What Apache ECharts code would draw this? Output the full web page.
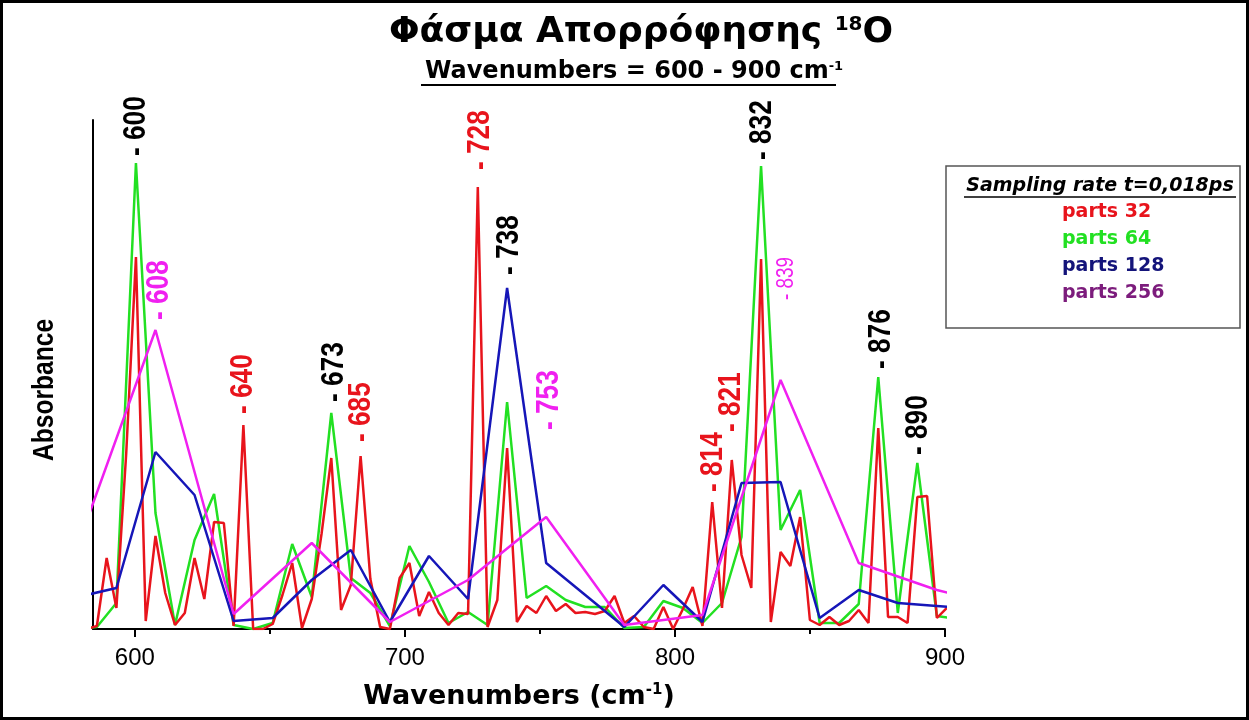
<!DOCTYPE html>
<html>
<head>
<meta charset="utf-8">
<script src="https://cdn.jsdelivr.net/npm/echarts@6/dist/echarts.min.js"></script>
<style>
html,body{margin:0;padding:0;background:#fff;}
#chart{width:1249px;height:720px;}
</style>
</head>
<body>
<div id="chart"></div>
<script>
// ---- Data (absorbance, arbitrary units) ----
// wavenumber grid of each series: x0 + i*step  (cm^-1)
const red32X0 = 582.32, red32Step = 3.6169;
const green64X0 = 578.70, green64Step = 7.2338;
const blue128X0 = 578.70, blue128Step = 14.4676;
const mag256X0 = 578.70, mag256Step = 28.9352;

const red32 = [0,3,71,21,175,372,8,93,36,4,
  16,71,30,107,106,3,204,0,0,5,
  34,66,1,30,95,171,19,44,173,50,
  2,0,51,66,13,37,16,4,16,15,
  442,2,29,181,7,23,16,33,18,25,
  16,17,15,18,33,6,13,2,0,22,
  0,20,42,3,127,21,169,74,41,370,
  7,77,63,112,9,4,12,4,8,19,
  6,201,12,12,6,132,133,11,21];
const green64 = [0,2,26,466,116,4,89,135,4,0,
  6,85,32,216,51,36,3,83,47,6,
  17,4,227,31,43,29,22,22,1,2,
  28,21,6,26,92,463,99,139,6,6,
  25,252,16,166,13,10];
const blue128 = [32,41,177,134,8,11,49,79,7,73,30,341,66,34,2,44,7,146,147,11,39,26,23,20];
const mag256 = [82,299,15,86,7,49,112,4,14,249,66,39,20];

const seriesNames = ['parts 32','parts 64','parts 128','parts 256'];
const lineColors = ['#e8141c','#22e022','#1616b8','#f020f0'];
const legendColors = ['#e8141c','#22e022','#14147a','#7c1c7c'];

const xTicksMajor = [600,700,800,900];
const xTicksMinor = [650,750,850];

// peak annotations
const peakText  = ['600','608','640','673','685','728','738','753','814','821','832','839','876','890'];
const peakWn    = [600.4,609,640.2,673.8,683.8,728,738.5,753.5,814.3,821,832.4,841.5,876.3,890];
const peakH     = [473,309,215,227,187,459,354,199,137,197,469,329,260,174];
const peakColor = ['#000','#f020f0','#e8141c','#000','#e8141c','#e8141c','#000','#f020f0','#e8141c','#e8141c','#000','#f020f0','#000','#000'];
const peakSize  = [32,32,32,32,32,32,32,32,32,32,32,23,32,32];

function toPairs(x0, step, vals){ return vals.map((v,i)=>[x0 + i*step, v]); }

const arial = "'Liberation Sans',Arial,Helvetica,sans-serif";
const wide = "'DejaVu Sans',Verdana,sans-serif";

const chart = echarts.init(document.getElementById('chart'), null, {renderer:'canvas'});

const lineSeries = [
  {name: seriesNames[1], data: toPairs(green64X0, green64Step, green64), color: lineColors[1]},
  {name: seriesNames[0], data: toPairs(red32X0, red32Step, red32), color: lineColors[0]},
  {name: seriesNames[2], data: toPairs(blue128X0, blue128Step, blue128), color: lineColors[2]},
  {name: seriesNames[3], data: toPairs(mag256X0, mag256Step, mag256), color: lineColors[3]}
].map(s => ({
  type:'line', name:s.name, data:s.data, symbol:'none', showSymbol:false,
  clip:true, animation:false, color:s.color,
  lineStyle:{color:s.color, width:2.5}
}));

const option = {
  backgroundColor:'#fff',
  animation:false,
  grid:{left:93, right:304, top:120, bottom:91, containLabel:false},
  xAxis:[{
    type:'value', min:584.5, max:900,
    axisLine:{lineStyle:{color:'#000', width:2}},
    axisTick:{customValues:xTicksMajor, length:8, lineStyle:{color:'#000', width:2}},
    axisLabel:{customValues:xTicksMajor, fontSize:24, color:'#000', margin:17, fontFamily:arial},
    splitLine:{show:false},
    name:'{a|Wavenumbers (cm}{s|-1}{a|)}',
    nameLocation:'middle', nameGap:54,
    nameTextStyle:{rich:{
      a:{fontSize:27, fontWeight:'bold', color:'#000', fontFamily:wide},
      s:{fontSize:15, fontWeight:'bold', color:'#000', fontFamily:wide, verticalAlign:'top'}
    }}
  },{
    type:'value', min:584.5, max:900, position:'bottom',
    axisLine:{show:false},
    axisTick:{customValues:xTicksMinor, length:5, lineStyle:{color:'#000', width:2}},
    axisLabel:{show:false}, splitLine:{show:false}
  }],
  yAxis:{
    type:'value', min:0, max:509,
    axisLine:{show:true, lineStyle:{color:'#000', width:2}},
    axisTick:{show:false}, axisLabel:{show:false}, splitLine:{show:false}
  },
  legend:{
    data: seriesNames.map((n,i)=>({name:n, textStyle:{color:legendColors[i]}})),
    orient:'vertical', left:1052, top:196, itemGap:5,
    itemWidth:0, itemHeight:0, icon:'rect',
    textStyle:{fontSize:19, fontWeight:'bold', fontFamily:wide, lineHeight:22},
    selectedMode:false
  },
  series: lineSeries
};
chart.setOption(option);

const baseGraphics = [
  {type:'rect', silent:true, shape:{x:1.5, y:1.5, width:1246, height:717},
   style:{fill:null, stroke:'#000', lineWidth:3}},
  {type:'text', silent:true, x:641, y:15,
   style:{text:'{a|Φάσμα Απορρόφησης }{s|18}{a|O}', align:'center', verticalAlign:'top',
     rich:{a:{fontSize:36, fontWeight:'bold', fill:'#000', fontFamily:wide},
           s:{fontSize:20, fontWeight:'bold', fill:'#000', fontFamily:wide, verticalAlign:'top'}}}},
  {type:'text', silent:true, x:634, y:60,
   style:{text:'{a|Wavenumbers = 600 - 900 cm}{s|-1}', align:'center', verticalAlign:'top',
     rich:{a:{fontSize:24, fontWeight:'bold', fill:'#000', fontFamily:wide},
           s:{fontSize:13, fontWeight:'bold', fill:'#000', fontFamily:wide, verticalAlign:'top'}}}},
  {type:'line', silent:true, shape:{x1:421, y1:85, x2:836, y2:85}, style:{stroke:'#000', lineWidth:2}},
  {type:'text', silent:true, x:45, y:390, rotation:Math.PI/2, scaleX:0.82,
   style:{text:'Absorbance', align:'center', verticalAlign:'middle', fontSize:30, fontWeight:'bold',
     fill:'#000', fontFamily:arial}},
  {type:'rect', silent:true, shape:{x:946, y:166, width:294, height:162},
   style:{fill:null, stroke:'#555', lineWidth:1.5}},
  {type:'text', silent:true, x:1100, y:186,
   style:{text:'Sampling rate t=0,018ps', align:'center', verticalAlign:'middle', fontSize:19,
     fontWeight:'bold', fontStyle:'italic', fill:'#000', fontFamily:wide}},
  {type:'line', silent:true, shape:{x1:964, y1:197, x2:1236, y2:197}, style:{stroke:'#000', lineWidth:1.5}}
];

// peak labels, placed through the chart's own coordinate system
const labelGraphics = peakText.map((t,i)=>{
  const p = chart.convertToPixel({gridIndex:0}, [peakWn[i], peakH[i]]);
  return {type:'text', silent:true, x:p[0], y:p[1], rotation:Math.PI/2, scaleX:0.82,
    style:{text:'- ' + t, fill:peakColor[i], fontSize:peakSize[i],
      fontWeight: peakSize[i] < 26 ? 'normal' : 'bold', fontFamily:arial,
      align:'left', verticalAlign:'middle'}};
});

chart.setOption({graphic: baseGraphics.concat(labelGraphics)});
</script>
</body>
</html>
